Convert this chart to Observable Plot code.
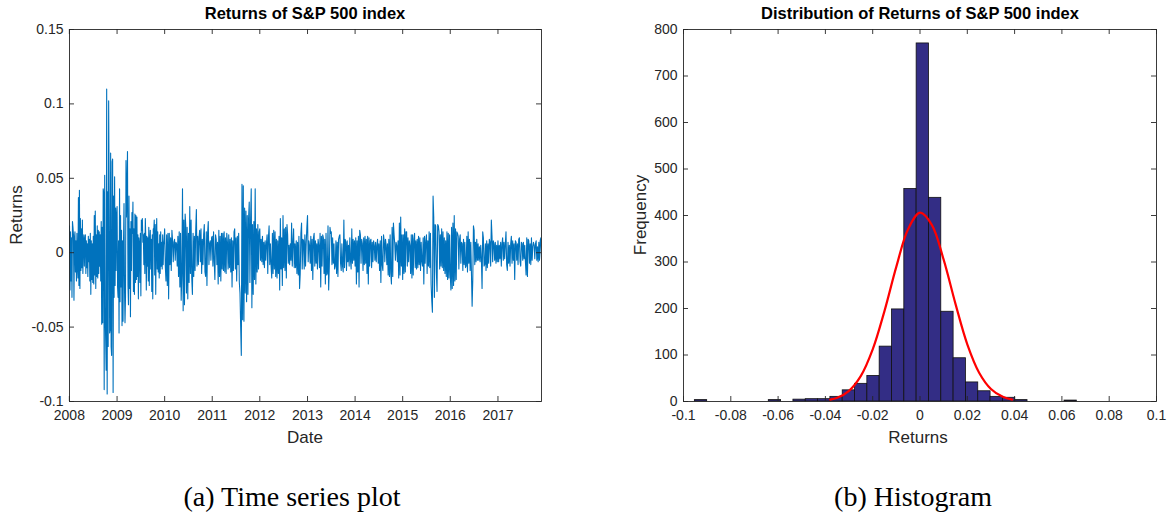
<!DOCTYPE html>
<html><head><meta charset="utf-8">
<script src="https://cdn.jsdelivr.net/npm/d3@7"></script>
<script src="https://cdn.jsdelivr.net/npm/@observablehq/plot@0.6"></script>
<style>
html,body{margin:0;padding:0;background:#fff;}
body{width:1172px;height:518px;position:relative;overflow:hidden;font-family:"Liberation Sans",Arial,Helvetica,sans-serif;}
.abs{position:absolute;white-space:nowrap;}
.title{font-weight:bold;font-size:16.5px;line-height:18px;color:#000;transform:translateX(-50%);}
.xlab{font-size:17px;line-height:20px;color:#262626;transform:translateX(-50%);}
.ylab{font-size:17px;line-height:20px;color:#262626;transform:translate(-50%,-50%) rotate(-90deg);}
.cap{font-family:"Liberation Serif","Times New Roman",serif;font-size:28px;line-height:30px;color:#000;transform:translate(-50%,-50%);}
#left{position:absolute;left:0;top:0;}
#right{position:absolute;left:600px;top:0;}
</style>
</head><body>
<div id="left"></div>
<div id="right"></div>
<div class="abs title" style="left:305px;top:4px;">Returns of S&amp;P 500 index</div>
<div class="abs title" style="left:920px;top:4px;">Distribution of Returns of S&amp;P 500 index</div>
<div class="abs xlab" style="left:305px;top:428px;">Date</div>
<div class="abs xlab" style="left:918px;top:428px;">Returns</div>
<div class="abs ylab" style="left:17px;top:215px;">Returns</div>
<div class="abs ylab" style="left:641px;top:215px;">Frequency</div>
<div class="abs cap" style="left:292px;top:497px;">(a) Time series plot</div>
<div class="abs cap" style="left:913px;top:497px;">(b) Histogram</div>
<script>
// ---------- Data: daily-return envelope of the S&P 500 (units of 0.001) ----------
const years = [2008, 2009, 2010, 2011, 2012, 2013, 2014, 2015, 2016, 2017];
const r2008 = [
  18,-25,14,-19,10,-30,21,17,  12,-32,10,14,-13,8,-19,13,
  -9,-17,37,-22,42,-24,23,-12,  16,-10,22,-14,7,12,-9,9,
  12,-14,8,-10,6,-16,11,-6,     9,-19,13,-28,8,-18,6,-20,
  11,-21,25,-15,28,-24,12,-16,  18,-17,15,-14,14,-9,12,-19,
  21,-48,17,-47,43,40,-92,52,   -40,-59,-79,110,-95,41,-63,102,
  41,-54,-51,67,-63,-69,61,63,  -94,38,-30,51,-22,30,-12,25
];
const r2009 = [
  31,-23,-30,8,-54,43,-33,25,   -23,15,-49,8,-46,7,33,-24,
  -47,-30,62,24,41,68,-22,-35,  38,-24,16,-43,21,-12,27,13,
  34,-26,16,-28,26,-20,25,-18,  24,-16,12,-31,10,6,-20,13,
  -29,22,15,23,7,12,-8,13,      -14,23,9,-25,11,-9,10,-19,
  17,-22,8,15,-11,9,-26,12,     -31,16,15,22,-15,19,-28,10,
  23,-11,14,-13,6,-17,12,-14,   14,-9,7,-11,12,-8,5,9
];
const r2010 = [
  16,-9,-19,12,-22,13,  -31,13,-8,10,-12,15,  8,-6,7,9,-5,7,
  6,-9,11,-16,14,-23,   13,-32,-15,43,-39,22, -35,26,18,-27,17,-31,
  13,-20,31,-14,22,-17, -28,13,-16,11,-12,15, 29,-9,11,-8,10,15,
  -6,16,-14,9,-8,12,    19,-13,-16,14,-22,13, 21,-8,6,8,-5,10
];
const r2011 = [
  11,-9,14,-6,-18,12,   9,-8,7,-21,15,-16,    11,-19,13,-11,13,-12,
  14,-13,10,-14,13,7,   -11,12,-10,9,-13,10,  -23,8,-12,14,16,-11,
  10,-19,11,-8,13,-20,  -27,-49,-69,46,-45,45, -46,30,-27,28,-33,25,
  -28,23,34,-20,21,43,  -37,19,-28,21,-18,43, -21,16,-13,19,-11,14
];
const r2012 = [
  16,-5,9,-6,11,-8,     7,-10,8,-5,6,12,      -14,10,18,-8,6,-9,
  -17,13,-14,15,-11,14, -16,9,-17,8,-14,11,   -25,23,-11,10,-22,25,
  -10,16,-12,17,-17,19, 12,-7,5,-8,6,-5,      20,-9,7,16,-10,6,
  -10,8,-14,7,-15,11,   -24,-14,13,20,-11,9,  8,-11,12,-9,6,17
];
const r2013 = [
  25,-6,8,5,-7,11,      -12,9,-18,10,13,-9,   8,-7,6,-11,9,5,
  -10,13,-23,11,-9,12,  10,-14,9,-21,13,-15,  -14,18,-25,-9,17,13,
  14,-8,10,-7,6,-11,    -9,8,-14,7,-16,9,     11,12,-7,-12,6,-9,
  -13,22,-10,9,7,-12,   8,-6,5,-9,10,-5,      -11,16,-7,9,-5,8
];
const r2014 = [
  -9,10,-21,8,-13,11,   -23,15,12,-7,9,6,     -12,10,-8,11,-7,9,
  -14,11,-21,10,-9,8,   9,-10,7,-6,8,5,       -5,7,-6,5,9,-7,
  6,-12,8,-20,11,-8,    -12,12,8,-6,9,5,      -8,6,-15,9,-16,12,
  -14,-21,17,-16,20,12, 6,-5,7,5,-6,8,        -17,20,-15,24,-9,12
];
const r2015 = [
  -18,12,-14,16,-13,14, 14,-9,10,-6,8,5,      -14,12,-17,12,-15,9,
  13,-10,8,-11,9,-10,   11,-8,10,-12,7,-6,    -9,10,-21,11,-7,8,
  12,-14,8,-9,14,-10,   13,-21,-32,-40,38,24, -30,19,18,-13,-26,19,
  18,14,-11,12,-9,16,   -10,14,-12,10,-14,8,  -16,14,-18,13,-17,12
];
const r2016 = [
  -15,-25,17,-24,20,-22, 25,-19,16,-18,14,13, 11,-11,9,12,-7,7,
  6,-12,9,-8,7,-10,     -9,11,-13,14,-7,9,    -12,7,-14,-36,-18,18,
  15,-8,7,-6,9,-5,      6,-5,4,-6,5,-4,       -24,14,10,-9,-8,6,
  -12,8,-10,6,-7,9,     7,-9,22,11,-6,8,      6,-5,7,-7,5,-6
];
const r2017 = [
  8,-6,5,-4,7,-9,       6,10,-5,7,-4,6,       14,-8,-12,7,-7,5,
  -9,6,11,-7,8,-5,      6,-18,8,7,-5,6,       -8,9,10,-6,-9,7,
  6,-5,7,-4,5,-6,       -15,10,-16,9,8,-7,    6,-8,10,-5,4,7,
  5,-4,6,8,-5,4,        -6,7,-5,8,10,-4
];
const returnsByYear = [r2008, r2009, r2010, r2011, r2012, r2013, r2014, r2015, r2016, r2017];
const seriesStart = [2008, 0, 2];
const seriesEnd = [2017, 11, 1];
const retTicks = [-0.1, -0.05, 0, 0.05, 0.1, 0.15];

// ---------- Histogram data ----------
const binStart = -0.0952;
const binWidth = 0.00521;
const binCounts = [3,0,0,0,0,0,3,0,4,5,5,10,24,38,55,118,198,457,770,438,193,93,41,22,10,8,3,0,0,0,2];
const fitX = [-0.038,-0.035,-0.030,-0.025,-0.020,-0.015,-0.010,-0.005,0,0.005,0.010,0.015,0.020,0.025,0.030,0.035,0.039];
const fitY = [4,8,23,55,112,195,290,371,406,380,305,210,123,62,27,10,4];
const histXTicks = [-0.1,-0.08,-0.06,-0.04,-0.02,0,0.02,0.04,0.06,0.08,0.1];
const freqTicks = [0,100,200,300,400,500,600,700,800];

// ---------- Build tables ----------
const U = (y, m, d) => new Date(Date.UTC(y, m, d));
const series = [];
years.forEach((yr, k) => {
  const vals = returnsByYear[k];
  const start = k === 0 ? U(...seriesStart) : U(yr, 0, 1);
  const isLast = k === years.length - 1;
  const end = isLast ? U(...seriesEnd) : U(yr + 1, 0, 1);
  const n = isLast ? vals.length - 1 : vals.length;
  vals.forEach((v, i) => {
    series.push({date: new Date(start.getTime() + (end - start) * i / n), ret: v / 1000});
  });
});
const yearTicks = years.map(y => U(y, 0, 1));
const bins = binCounts.map((c, i) => ({x1: binStart + i * binWidth, x2: binStart + (i + 1) * binWidth, count: c})).filter(b => b.count > 0);
const fit = fitX.map((x, i) => ({x, y: fitY[i]}));

const FONT = '"Liberation Sans", Arial, Helvetica, sans-serif';
const AX = "#262626";
const H = 460, mT = 29, mB = 59;
const ph = H - mT - mB;
const fmt = d => String(Math.round(d * 100) / 100);

// ---------- Left: time series ----------
{
  const W = 560, mL = 69, mR = 19, pw = W - mL - mR;
  const chart = Plot.plot({
    width: W, height: H, marginLeft: mL, marginRight: mR, marginTop: mT, marginBottom: mB,
    style: {fontFamily: FONT, fontSize: "14px", color: AX, background: "white", overflow: "visible"},
    x: {type: "utc", domain: [U(...seriesStart), U(...seriesEnd)], axis: null},
    y: {domain: [-0.1, 0.15], axis: null},
    marks: [
      Plot.line(series, {x: "date", y: "ret", stroke: "#0072BD", strokeWidth: 1.1, clip: true}),
      Plot.frame({stroke: AX, strokeWidth: 0.9}),
      Plot.tickX(yearTicks, {x: d => d, insetTop: ph - 5, stroke: AX, strokeWidth: 0.9}),
      Plot.tickX(yearTicks, {x: d => d, insetBottom: ph - 5, stroke: AX, strokeWidth: 0.9}),
      Plot.tickY(retTicks, {y: d => d, insetRight: pw - 5, stroke: AX, strokeWidth: 0.9}),
      Plot.tickY(retTicks, {y: d => d, insetLeft: pw - 5, stroke: AX, strokeWidth: 0.9}),
      Plot.axisX(yearTicks, {tickSize: 0, tickPadding: 9, label: null, tickFormat: d => String(d.getUTCFullYear())}),
      Plot.axisY(retTicks, {tickSize: 0, tickPadding: 6, label: null, tickFormat: fmt})
    ]
  });
  document.getElementById("left").append(chart);
}

// ---------- Right: histogram ----------
{
  const W = 572, mL = 83, mR = 16, pw = W - mL - mR;
  const chart = Plot.plot({
    width: W, height: H, marginLeft: mL, marginRight: mR, marginTop: mT, marginBottom: mB,
    style: {fontFamily: FONT, fontSize: "14px", color: AX, background: "white", overflow: "visible"},
    x: {domain: [-0.1, 0.1], axis: null},
    y: {domain: [0, 800], axis: null},
    marks: [
      Plot.rectY(bins, {x1: "x1", x2: "x2", y: "count", fill: "#332D85", stroke: "#111", strokeWidth: 0.8}),
      Plot.line(fit, {x: "x", y: "y", stroke: "#FF0000", strokeWidth: 2.2, curve: "catmull-rom"}),
      Plot.frame({stroke: AX, strokeWidth: 0.9}),
      Plot.tickX(histXTicks, {x: d => d, insetTop: ph - 5, stroke: AX, strokeWidth: 0.9}),
      Plot.tickX(histXTicks, {x: d => d, insetBottom: ph - 5, stroke: AX, strokeWidth: 0.9}),
      Plot.tickY(freqTicks, {y: d => d, insetRight: pw - 5, stroke: AX, strokeWidth: 0.9}),
      Plot.tickY(freqTicks, {y: d => d, insetLeft: pw - 5, stroke: AX, strokeWidth: 0.9}),
      Plot.axisX(histXTicks, {tickSize: 0, tickPadding: 9, label: null, tickFormat: fmt}),
      Plot.axisY(freqTicks, {tickSize: 0, tickPadding: 6, label: null, tickFormat: d => String(d)})
    ]
  });
  document.getElementById("right").append(chart);
}
</script>
</body></html>
